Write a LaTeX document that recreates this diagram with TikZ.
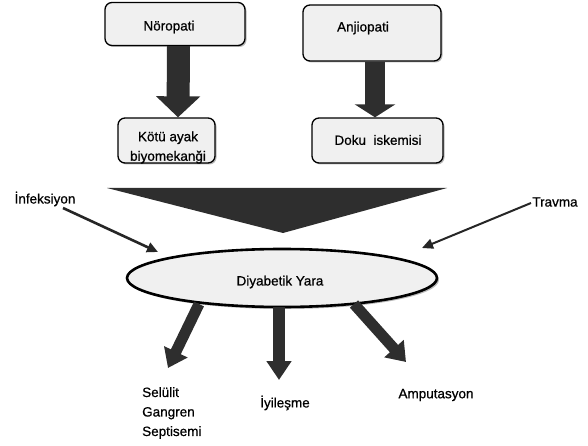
\documentclass[tikz,border=0pt]{standalone}
\usepackage{fontspec}
\setmainfont{Liberation Sans}[BoldFont=Liberation Sans, BoldFeatures={FakeBold=0.7}]
\usetikzlibrary{shapes.geometric,arrows.meta,shadows}
\begin{document}
\begin{tikzpicture}[x=1pt,y=-1pt,
  box/.style={draw=black, line width=1.3pt, rounded corners=7pt, fill=gray!12, inner sep=0pt,
    drop shadow={shadow xshift=1.5pt, shadow yshift=-1.5pt, fill=gray!55, opacity=1}},
  lbl/.style={font=\fontsize{13.5}{19.5}\selectfont\bfseries, inner sep=0pt, align=center},
  bigarrow/.style={draw=black!82, line width=#1},
  thin/.style={draw=black!85, line width=2.6pt, -{Triangle[width=10pt,length=11pt]}}
]
\useasboundingbox (0,0) rectangle (588,446);
% top boxes
\node[box, minimum width=140pt, minimum height=43pt] (n1) at (175,24) {};
\node[lbl] (n1t) at (169,27) {Nöropati};
\node[box, minimum width=138pt, minimum height=56pt] (a1) at (372,33) {};
\node[lbl] (a1t) at (363,28) {Anjiopati};
\node[box, minimum width=97pt, minimum height=45pt] (k1) at (166.5,140.5) {};
\node[lbl] (k1t) at (168,147.5) {Kötü ayak\\biyomekanği};
\node[box, minimum width=131pt, minimum height=45pt] (d1) at (377.5,140.5) {};
\node[lbl] (d1t) at (378,140) {Doku\ \ iskemisi};
% block arrows down
\draw[bigarrow=23pt, -{Triangle[width=43pt,length=21pt]}] ([xshift=3.5pt]n1.south) -- ([xshift=11.5pt]k1.north);
\draw[bigarrow=20pt, -{Triangle[width=40pt,length=13pt]}] ([xshift=3pt]a1.south) -- ([xshift=-2.5pt]d1.north);
% merging triangle
\fill[black!82] (107,188) -- (447,188) -- (283,233) -- cycle;
% ellipse
\node[ellipse, draw=black, line width=2.6pt, fill=gray!12, minimum width=310pt, minimum height=58pt, inner sep=0pt,
  drop shadow={shadow xshift=2pt, shadow yshift=-2pt, fill=gray!55, opacity=1}] (e) at (282,278) {};
\node[lbl] (et) at (280,282) {Diyabetik Yara};
% side inputs
\node[lbl] (inf) at (45,199) {İnfeksiyon};
\node[lbl] (tra) at (555,202) {Travma};
\coordinate (inf1) at (63,208);
\coordinate (inf2) at (158,252);
\coordinate (tra1) at (531,203);
\coordinate (tra2) at (422,248);
\draw[thin] (inf1) -- (inf2);
\draw[thin, line width=2pt] (tra1) -- (tra2);
% outputs
\node[lbl, align=left, anchor=west] (sel) at (142,413) {Selülit\\Gangren\\Septisemi};
\node[lbl] (iyi) at (285,403) {İyileşme};
\node[lbl] (amp) at (436,395) {Amputasyon};
\coordinate (o1a) at (199,304);
\coordinate (o1b) at (168,368);
\coordinate (o2a) at (279,307);
\coordinate (o2b) at (279,380);
\coordinate (o3a) at (354,304);
\coordinate (o3b) at (406,362);
\draw[bigarrow=11pt, -{Triangle[width=25pt,length=18pt]}] (o1a) -- (o1b);
\draw[bigarrow=12pt, -{Triangle[width=24pt,length=19pt]}] (o2a) -- (o2b);
\draw[bigarrow=11pt, -{Triangle[width=25pt,length=18pt]}] (o3a) -- (o3b);
\end{tikzpicture}
\end{document}
